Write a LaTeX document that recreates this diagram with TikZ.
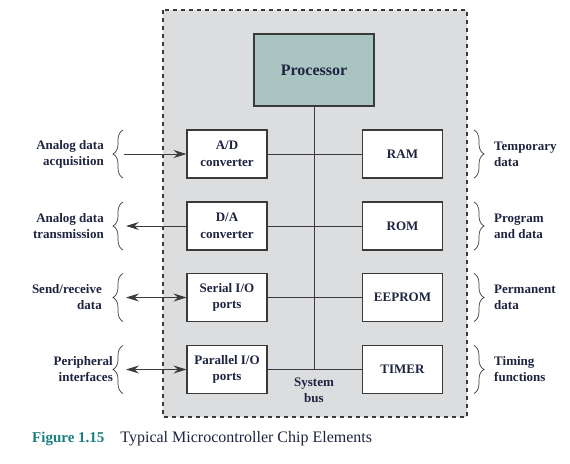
\documentclass[tikz,border=0pt]{standalone}
\usepackage{fontspec}
\setmainfont{Liberation Serif}
\usetikzlibrary{arrows.meta,decorations.pathreplacing}

\definecolor{chipgray}{HTML}{DCDDDF}
\definecolor{procgreen}{HTML}{A9C4C1}
\definecolor{inkblue}{HTML}{1E2340}
\definecolor{capteal}{HTML}{1A7F80}
\definecolor{edgegray}{HTML}{3A3A3A}

\tikzset{
  unit/.style={draw=edgegray, fill=white, line width=1.1pt, minimum width=80pt,
    minimum height=48pt, align=center, inner sep=0pt, text=inkblue,
    font=\bfseries\fontsize{13}{16.5}\selectfont},
  side/.style={inner sep=0pt, text=inkblue, font=\bfseries\fontsize{13}{16}\selectfont},
  bus/.style={draw=edgegray, line width=1pt},
  io/.style={draw=edgegray, line width=0.9pt},
  curly/.style={decorate, decoration={brace,amplitude=10pt}, draw=edgegray, line width=0.7pt},
}

\begin{document}
\begin{tikzpicture}[x=1pt, y=-1pt, >={Stealth[length=13pt,width=8pt,inset=4.5pt]}]
    \useasboundingbox (0,0) rectangle (570,463);

    % Chip outline
    \draw[fill=chipgray, draw=edgegray, line width=1.2pt, dash pattern=on 4pt off 4pt]
        (163,10) rectangle (467,417);

    % Processor
    \node[unit, fill=procgreen, minimum width=120pt, minimum height=72pt,
        font=\bfseries\fontsize{16}{18}\selectfont] (proc) at (314,70) {Processor};

    % Interface units (left column)
    \node[unit] (adc) at (227,154) {A/D\\converter};
    \node[unit] (dac) at (227,226) {D/A\\converter};
    \node[unit] (sio) at (227,297.5) {Serial I/O\\ports};
    \node[unit] (pio) at (227,369.5) {Parallel I/O\\ports};

    % Memory and timer (right column)
    \node[unit] (ram) at (402.5,154) {RAM};
    \node[unit] (rom) at (402.5,226) {ROM};
    \node[unit] (eeprom) at (402.5,297.5) {EEPROM};
    \node[unit] (timer) at (402.5,369.5) {TIMER};

    % System bus
    \coordinate (busend) at (proc.south |- pio.east);
    \draw[bus] (proc.south) -- (busend);
    \draw[bus] (adc.east) -- (ram.west);
    \draw[bus] (dac.east) -- (rom.west);
    \draw[bus] (sio.east) -- (eeprom.west);
    \draw[bus] (pio.east) -- (timer.west);
    \node[side, align=center] (buslbl) at (314,390) {System\\bus};

    % Outside signals (left)
    \node[side, anchor=east, align=right] (acq) at (104,154) {Analog data\\acquisition};
    \draw[curly] (123,178) -- (123,130);
    \coordinate (acqend) at (124,154);
    \draw[io,->] (acqend) -- (adc.west);

    \node[side, anchor=east, align=right] (trans) at (104,226) {Analog data\\transmission};
    \draw[curly] (123,250) -- (123,202);
    \coordinate (transend) at (126,226);
    \draw[io,->] (dac.west) -- (transend);

    \node[side, anchor=east, align=right] (sendrecv) at (102,297.5) {Send/receive\\data};
    \draw[curly] (123,321.5) -- (123,273.5);
    \coordinate (sendend) at (126,297.5);
    \draw[io,<->] (sendend) -- (sio.west);

    \node[side, anchor=east, align=right] (periph) at (113,369.5) {Peripheral\\interfaces};
    \draw[curly] (123,393.5) -- (123,345.5);
    \coordinate (periphend) at (126,369.5);
    \draw[io,<->] (periphend) -- (pio.west);

    % Descriptions (right)
    \draw[curly] (474,130) -- (474,178);
    \node[side, anchor=west, align=left] (tmp) at (494,154) {Temporary\\data};
    \draw[curly] (474,202) -- (474,250);
    \node[side, anchor=west, align=left] (prog) at (494,226) {Program\\and data};
    \draw[curly] (474,273.5) -- (474,321.5);
    \node[side, anchor=west, align=left] (perm) at (494,297.5) {Permanent\\data};
    \draw[curly] (474,345.5) -- (474,393.5);
    \node[side, anchor=west, align=left] (timing) at (494,369.5) {Timing\\functions};

    % Caption
    \node[anchor=west, inner sep=0pt, text=inkblue, font=\fontsize{16}{18}\selectfont] (caption) at (32,438.5)
        {{\color{capteal}\bfseries\fontsize{15}{18}\selectfont Figure 1.15}\quad Typical Microcontroller Chip Elements};
\end{tikzpicture}
\end{document}
